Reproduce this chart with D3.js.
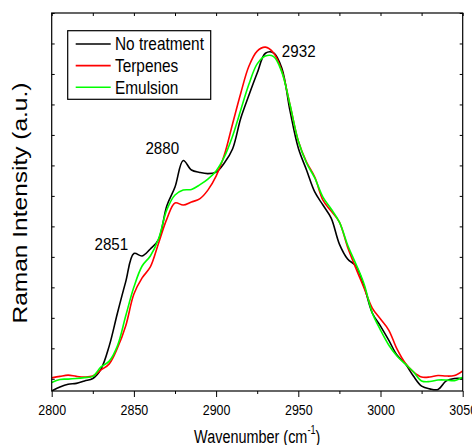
<!DOCTYPE html>
<html>
<head>
<meta charset="utf-8">
<script src="https://cdn.jsdelivr.net/npm/d3@7"></script>
<style>
  body { margin: 0; background: #fff; }
  svg text { font-family: Arial, "Liberation Sans", sans-serif; fill: #000; }
</style>
</head>
<body>
<div id="chart"></div>
<script>
// wavenumber grid (cm-1)
const wavenumbers = d3.range(2800, 3051, 5);

// intensities (a.u.)
const noTreatment = [60, 73, 82, 85, 93, 101, 132, 208, 316, 418, 511, 503, 526, 557, 667, 729, 816, 785, 777, 773,
  778, 808, 854, 955, 1031, 1103, 1168, 1169, 1119, 978, 857, 785, 713, 670, 627, 542, 493, 470, 404, 316,
  273, 227, 178, 150, 109, 76, 67, 65, 93, 101, 101];
const terpenes = [103, 108, 112, 108, 106, 109, 129, 149, 201, 273, 378, 431, 467, 545, 624, 677, 670, 680, 690, 719,
  765, 834, 936, 1037, 1126, 1175, 1188, 1169, 1110, 998, 880, 811, 762, 686, 650, 614, 532, 463, 398, 332,
  296, 260, 198, 152, 123, 106, 106, 111, 109, 111, 126];
const emulsion = [88, 98, 99, 101, 104, 108, 139, 158, 208, 306, 401, 470, 503, 559, 654, 703, 719, 721, 736, 755,
  782, 828, 896, 982, 1067, 1133, 1159, 1157, 1106, 998, 880, 808, 759, 696, 657, 614, 539, 477, 411, 316,
  260, 211, 175, 149, 123, 93, 91, 96, 96, 94, 105];

const seriesNames = ["No treatment", "Terpenes", "Emulsion"];
const seriesColors = ["#000000", "#ff0000", "#00ff00"];
const xTicks = [2800, 2850, 2900, 2950, 3000, 3050];
// peak labels, anchored at the text's lower-left corner
const annotations = [
  {label: "2851", x: 2826, y: 521},
  {label: "2880", x: 2857, y: 839},
  {label: "2932", x: 2940, y: 1157}
];

const margin = {top: 13, right: 9.3, bottom: 54, left: 51.7},
    width = 472 - margin.left - margin.right,
    height = 445 - margin.top - margin.bottom;

const svg = d3.select("#chart")
    .append("svg")
    .attr("width", 472)
    .attr("height", 445)
    .append("g")
    .attr("transform", `translate(${margin.left}, ${margin.top})`);

const x = d3.scaleLinear().domain([2800, 3050]).range([0, width]);
const y = d3.scaleLinear().domain([60, 1300]).range([height, 0]);

svg.append("clipPath").attr("id", "clip")
    .append("rect").attr("width", width).attr("height", height);

// bottom axis: major ticks with labels, minor ticks between
svg.append("g")
    .attr("transform", `translate(0,${height})`)
    .call(d3.axisBottom(x).tickValues(xTicks).tickSize(6).tickSizeOuter(0).tickFormat(d3.format("d")))
    .call(g => g.select(".domain").remove())
    .selectAll("text")
    .attr("y", 24).attr("dy", null)
    .attr("transform", "scale(0.89,1)")
    .style("font-size", "14px");
svg.append("g")
    .attr("transform", `translate(0,${height})`)
    .call(d3.axisBottom(x).tickValues(d3.range(2825, 3050, 50)).tickSize(3).tickFormat(""))
    .call(g => g.select(".domain").remove());

// inward ticks on the other sides
svg.append("g")
    .call(d3.axisTop(x).tickValues(d3.range(2800, 3051, 25)).tickSize(-3).tickFormat(""))
    .call(g => g.select(".domain").remove());
svg.append("g")
    .call(d3.axisLeft(y).tickValues(d3.range(100, 1301, 100)).tickSize(-3).tickFormat(""))
    .call(g => g.select(".domain").remove());
svg.append("g")
    .attr("transform", `translate(${width},0)`)
    .call(d3.axisRight(y).tickValues(d3.range(100, 1301, 100)).tickSize(-3).tickFormat(""))
    .call(g => g.select(".domain").remove());

// the curves
const line = d3.line()
    .x((d, i) => x(wavenumbers[i]))
    .y(d => y(d))
    .curve(d3.curveCatmullRom.alpha(0.5));

svg.append("g")
    .attr("clip-path", "url(#clip)")
    .selectAll("path")
    .data([noTreatment, terpenes, emulsion])
    .enter().append("path")
    .attr("d", line)
    .attr("fill", "none")
    .attr("stroke", (d, i) => seriesColors[i])
    .attr("stroke-width", 1.6);

// frame
svg.append("rect")
    .attr("width", width).attr("height", height)
    .attr("fill", "none").attr("stroke", "#000").attr("stroke-width", 1.2);

// peak labels
svg.selectAll(".peak")
    .data(annotations)
    .enter().append("text")
    .attr("class", "peak")
    .attr("transform", d => `translate(${x(d.x)},${y(d.y)}) scale(0.92,1)`)
    .style("font-size", "16.5px")
    .text(d => d.label);

// legend
const legend = svg.append("g").attr("transform", "translate(16, 17.7)");
legend.append("rect")
    .attr("width", 143).attr("height", 68.6)
    .attr("fill", "#fff").attr("stroke", "#000").attr("stroke-width", 1.2);
seriesNames.forEach(function(name, i) {
    const ry = 13.3 + i * 21.6;
    legend.append("line")
        .attr("x1", 8).attr("x2", 43).attr("y1", ry).attr("y2", ry)
        .attr("stroke", seriesColors[i]).attr("stroke-width", 1.6);
    legend.append("text")
        .attr("transform", `translate(47.3,${ry + 6.3}) scale(0.88,1)`)
        .style("font-size", "17.5px")
        .text(name);
});

// axis titles
const xt = svg.append("text")
    .attr("transform", `translate(${width / 2},${height + 51.5}) scale(0.76,1)`)
    .attr("text-anchor", "middle")
    .style("font-size", "19px");
xt.append("tspan").text("Wavenumber (cm");
xt.append("tspan").attr("dy", -9).style("font-size", "12px").text("-1");
xt.append("tspan").attr("dy", 9).text(")");

svg.append("text")
    .attr("transform", `translate(${27 - margin.left},${height / 2 + 1}) scale(0.8,1) rotate(-90)`)
    .attr("text-anchor", "middle")
    .style("font-size", "24.5px")
    .text("Raman Intensity (a.u.)");
</script>
</body>
</html>
